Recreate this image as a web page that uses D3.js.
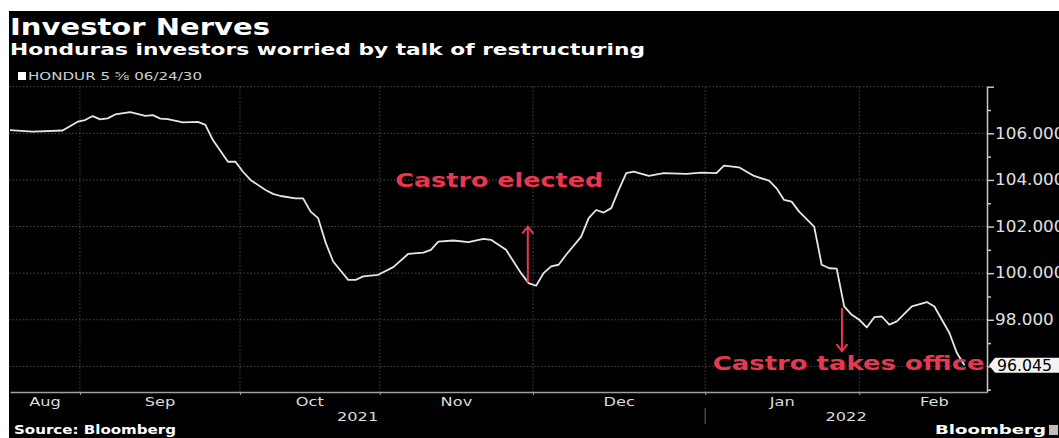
<!DOCTYPE html>
<html><head><meta charset="utf-8">
<script src="https://cdn.jsdelivr.net/npm/d3@7"></script>
<style>
html,body{margin:0;padding:0;background:#fff;overflow:hidden;}
svg{display:block}
</style></head><body>
<svg id="c" width="1059" height="438"></svg>
<script>
// ---------- data ----------
const title = "Investor Nerves";
const subtitle = "Honduras investors worried by talk of restructuring";
const seriesName = "HONDUR 5 \u215D 06/24/30";
const sourceText = "Source: Bloomberg";
const brandText = "Bloomberg";

// trading-day index and bond price
const days = [0,3,7,9,10,11,12,13,14,16,18,19,20,21,23,25,26,27,29,30,31,32,34,35,36,38,39,40,41,42,43,45,46,47,49,51,53,55,56,57,59,61,63,64,66,67,68,69,70,71,72,73,74,76,77,78,79,80,81,82,83,85,87,90,92,94,95,97,99,100,101,102,103,104,105,107,108,109,110,111,112,113,114,115,116,117,118,120,122,123,125,126,127];
const prices = [106.14,106.07,106.12,106.50,106.57,106.74,106.60,106.64,106.81,106.91,106.75,106.78,106.63,106.61,106.47,106.49,106.36,105.71,104.78,104.78,104.35,104.00,103.57,103.40,103.31,103.21,103.21,102.64,102.36,101.31,100.50,99.71,99.71,99.86,99.93,100.26,100.83,100.88,101.00,101.35,101.40,101.33,101.47,101.43,101.00,100.50,100.00,99.57,99.46,100.00,100.29,100.36,100.79,101.57,102.36,102.71,102.60,102.79,103.57,104.29,104.36,104.17,104.29,104.26,104.31,104.29,104.61,104.54,104.17,104.07,103.97,103.64,103.14,103.07,102.64,102.00,100.36,100.21,100.19,98.57,98.21,98.00,97.67,98.11,98.14,97.79,97.93,98.57,98.76,98.57,97.43,96.57,96.045];
const lastValue = 96.045;

const yGrid = [96,98,100,102,104,106,108];
const yMinor = [95,97,99,101,103,105,107];
const yLabelled = [98,100,102,104,106];

const monthLabels = ["Aug","Sep","Oct","Nov","Dec","Jan","Feb"];
const monthStarts = [9.3,30.6,49.2,69.6,92.5,113.0];
const dayDomain = [0,130];
const labelSpan = [0,133];
const yearLabels = ["2021","2022"];
const yearBreak = 92.5;

const annText = ["Castro elected","Castro takes office"];
const annDay = [68.9,110.7];
const annFrom = [99.6,98.5];
const annTo = [102.0,96.65];
const annLabelDay = [65.1,111.6];
const annLabelValue = [103.69,95.86];

// ---------- layout ----------
const W = 1059, H = 438;
const svg = d3.select("#c");
const RED = "#e8374f";
const FONT = "'DejaVu Sans', Verdana, sans-serif";

svg.append("rect").attr("width",W).attr("height",H).attr("fill","#fff");
svg.append("rect").attr("x",9).attr("y",11).attr("width",W-9).attr("height",H-11).attr("fill","#000");

const x = d3.scaleLinear().domain(dayDomain).range([10,987]);
const y = d3.scaleLinear().domain([94.9,108]).range([392,86.7]);

function stretch(sel,k){
  sel.each(function(){
    const w = this.getComputedTextLength();
    d3.select(this).attr("textLength",w*k).attr("lengthAdjust","spacingAndGlyphs");
  });
}

// titles
svg.append("text").attr("x",10).attr("y",35).text(title)
  .attr("font-family",FONT).attr("font-weight","bold").attr("font-size",23).attr("fill","#fff")
  .attr("textLength",260).attr("lengthAdjust","spacingAndGlyphs");
svg.append("text").attr("x",10).attr("y",55).text(subtitle)
  .attr("font-family",FONT).attr("font-weight","bold").attr("font-size",16.5).attr("fill","#fff")
  .attr("textLength",635).attr("lengthAdjust","spacingAndGlyphs");
svg.append("rect").attr("x",18).attr("y",72).attr("width",8).attr("height",8).attr("fill","#fff");
svg.append("text").attr("x",28).attr("y",80).text(seriesName)
  .attr("font-family",FONT).attr("font-size",11).attr("fill","#d0d0d0")
  .attr("textLength",174).attr("lengthAdjust","spacingAndGlyphs");

// grid
const grid = svg.append("g");
grid.selectAll("line.h").data(yGrid).join("line").attr("class","h")
  .attr("x1",9).attr("x2",987).attr("y1",d=>y(d)).attr("y2",d=>y(d))
  .attr("stroke","#4a4a4a").attr("stroke-width",1).attr("stroke-dasharray","1.5,2");
grid.selectAll("line.v").data(monthStarts).join("line").attr("class","v")
  .attr("x1",d=>x(d)).attr("x2",d=>x(d)).attr("y1",y(108)).attr("y2",392)
  .attr("stroke","#4a4a4a").attr("stroke-width",1).attr("stroke-dasharray","1.5,2");

// bottom axis
const xAxis = svg.append("g").attr("transform","translate(0,392)")
  .call(d3.axisBottom(x).tickValues(monthStarts).tickSize(3).tickSizeOuter(0).tickFormat(""));
xAxis.select(".domain").attr("stroke","#a0a0a0").attr("stroke-width",1.5);
xAxis.selectAll(".tick line").attr("stroke","#a0a0a0");

const bounds = [labelSpan[0], ...monthStarts, labelSpan[1]];
svg.append("g").selectAll("text").data(monthLabels).join("text")
  .attr("transform",(d,i)=>`translate(${(x(bounds[i])+x(bounds[i+1]))/2},406) scale(1.35,1)`)
  .attr("text-anchor","middle").attr("font-family",FONT).attr("font-size",12).attr("fill","#dcdcdc")
  .text(d=>d);
const yearBounds = [dayDomain[0], yearBreak, dayDomain[1]];
svg.append("g").selectAll("text").data(yearLabels).join("text")
  .attr("transform",(d,i)=>`translate(${(x(yearBounds[i])+x(yearBounds[i+1]))/2},421) scale(1.35,1)`)
  .attr("text-anchor","middle").attr("font-family",FONT).attr("font-size",12).attr("fill","#dcdcdc")
  .text(d=>d);
svg.append("line").attr("x1",x(yearBreak)).attr("x2",x(yearBreak)).attr("y1",408).attr("y2",424)
  .attr("stroke","#666").attr("stroke-width",1);

// right axis
const yAxis = svg.append("g").attr("transform","translate(987,0)")
  .call(d3.axisRight(y).tickValues(yGrid).tickSize(7).tickSizeOuter(0).tickPadding(1)
    .tickFormat(d=>yLabelled.includes(d)?d3.format(".3f")(d):""));
yAxis.select(".domain").attr("stroke","#c8c8c8").attr("stroke-width",1.5);
yAxis.selectAll(".tick line").attr("stroke","#c8c8c8").attr("stroke-width",1.5);
yAxis.selectAll(".tick text").attr("fill","#e0e0e0").attr("font-family",FONT).attr("font-size",15).call(stretch,1.12);
const yMinorAxis = svg.append("g").attr("transform","translate(987,0)")
  .call(d3.axisRight(y).tickValues(yMinor).tickSize(4).tickSizeOuter(0).tickFormat(""));
yMinorAxis.select(".domain").remove();
yMinorAxis.selectAll(".tick line").attr("stroke","#c8c8c8").attr("stroke-width",1.5);

// line
const pts = days.map((d,i)=>[d,prices[i]]);
svg.append("path").datum(pts)
  .attr("d",d3.line().x(d=>x(d[0])).y(d=>y(d[1])))
  .attr("fill","none").attr("stroke","#e6e6e6").attr("stroke-width",1.8).attr("stroke-linejoin","round");

// annotations
const ann = svg.append("g");
annText.forEach((t,i)=>{
  const ax = x(annDay[i]), y0 = y(annFrom[i]), y1 = y(annTo[i]);
  const dir = y1 < y0 ? 1 : -1;
  ann.append("line").attr("x1",ax).attr("x2",ax).attr("y1",y0).attr("y2",y1)
    .attr("stroke",RED).attr("stroke-width",2);
  ann.append("path").attr("d",`M${ax-5.5},${y1+dir*7}L${ax},${y1}L${ax+5.5},${y1+dir*7}`)
    .attr("fill","none").attr("stroke",RED).attr("stroke-width",2);
});
ann.selectAll("text").data(annText).join("text")
  .attr("x",(d,i)=>x(annLabelDay[i])).attr("y",(d,i)=>y(annLabelValue[i]))
  .attr("text-anchor","middle").attr("font-family",FONT).attr("font-weight","bold").attr("font-size",20)
  .attr("fill",RED).text(d=>d)
  .attr("textLength",(d,i)=>[208,272][i]).attr("lengthAdjust","spacingAndGlyphs");

// last value tag
const ly = y(lastValue);
svg.append("path").attr("d",`M989,${ly}L995,${ly-7.5}L1062,${ly-7.5}L1062,${ly+7.5}L995,${ly+7.5}Z`)
  .attr("fill","#f2f2f2");
svg.append("text").attr("x",997).attr("y",ly+5.5).text(d3.format(".3f")(lastValue))
  .attr("font-family",FONT).attr("font-size",15).attr("fill","#000").call(stretch,1.05);

// footer
svg.append("text").attr("x",14).attr("y",434).text(sourceText)
  .attr("font-family",FONT).attr("font-weight","bold").attr("font-size",11.5).attr("fill","#fff")
  .attr("textLength",162).attr("lengthAdjust","spacingAndGlyphs");
svg.append("text").attr("x",935).attr("y",434).text(brandText)
  .attr("font-family",FONT).attr("font-weight","bold").attr("font-size",12.5).attr("fill","#fff")
  .attr("textLength",111).attr("lengthAdjust","spacingAndGlyphs");
svg.append("rect").attr("x",1049).attr("y",425).attr("width",9).attr("height",10).attr("fill","#bdbdbd");
</script>
</body></html>
